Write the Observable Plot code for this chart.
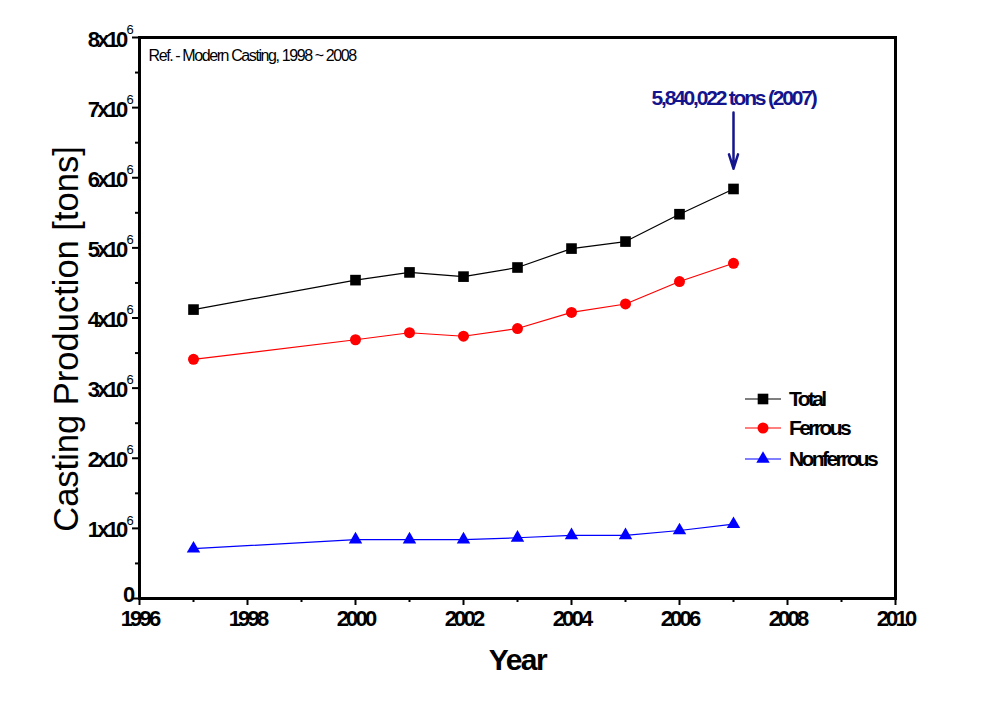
<!DOCTYPE html>
<html><head><meta charset="utf-8">
<script src="https://cdn.jsdelivr.net/npm/d3@7"></script>
<script src="https://cdn.jsdelivr.net/npm/@observablehq/plot@0.6"></script>
<style>
body{margin:0;background:#fff}
svg text{font-family:"Liberation Sans",Arial,sans-serif}
</style>
</head><body><div id="chart"></div>
<script>
const years=[1997,2000,2001,2002,2003,2004,2005,2006,2007];
const total=[4.12e6,4.54e6,4.65e6,4.59e6,4.72e6,4.99e6,5.09e6,5.48e6,5.84e6];
const ferrous=[3.41e6,3.69e6,3.79e6,3.74e6,3.85e6,4.08e6,4.20e6,4.52e6,4.78e6];
const nonferrous=[0.71e6,0.84e6,0.84e6,0.84e6,0.866e6,0.90e6,0.90e6,0.97e6,1.06e6];
const seriesNames=["Total","Ferrous","Nonferrous"];
const seriesColors=["#000000","#ff0000","#0000ff"];
const seriesSymbols=["square","circle","triangle"];
const xTicks=[1996,1998,2000,2002,2004,2006,2008,2010];
const xMinor=[1997,1999,2001,2003,2005,2007,2009];
const yTicks=[0,1e6,2e6,3e6,4e6,5e6,6e6,7e6,8e6];
const yMinor=[0.5e6,1.5e6,2.5e6,3.5e6,4.5e6,5.5e6,6.5e6,7.5e6];
const yTickLabels=["0","1x10","2x10","3x10","4x10","5x10","6x10","7x10","8x10"];
const yTickExp=["","6","6","6","6","6","6","6","6"];
const annot=[{year:2007,value:5840022,label:"5,840,022 tons (2007)",textAt:7.13e6,arrowFrom:6.93e6,arrowTo:6.13e6}];
const refText="Ref. - Modern Casting, 1998 ~ 2008";

const series=[total,ferrous,nonferrous];
const data=seriesNames.flatMap((s,k)=>years.map((y,i)=>({year:y,value:series[k][i],series:s})));
const yLab=yTicks.map((v,i)=>({value:v,label:yTickLabels[i],exp:yTickExp[i]}));

const plot=Plot.plot({
  width:983,height:721,
  marginLeft:139,marginRight:88,marginTop:37,marginBottom:123,
  x:{domain:[1996,2010]},
  y:{domain:[0,8e6]},
  color:{domain:seriesNames,range:seriesColors},
  style:{background:"white",overflow:"visible",fontFamily:"Liberation Sans, Arial, sans-serif",color:"black"},
  marks:[
    Plot.axisX({ticks:xMinor,tickSize:4,tickFormat:()=>"",label:null,strokeWidth:2}),
    Plot.axisX({ticks:xTicks,tickSize:7,tickPadding:5,tickFormat:d=>String(d),fontSize:22,fontWeight:"bold",label:null,strokeWidth:2}),
    Plot.axisY({ticks:yMinor,tickSize:4,tickFormat:()=>"",label:null,strokeWidth:2}),
    Plot.axisY({ticks:yTicks,tickSize:7,tickFormat:()=>"",label:null,strokeWidth:2}),
    Plot.text(yLab.filter(d=>d.value>0),{y:"value",text:"label",frameAnchor:"left",dx:-14,dy:2,textAnchor:"end",fontSize:22,fontWeight:"bold"}),
    Plot.text(yLab.filter(d=>d.value===0),{y:"value",text:"label",frameAnchor:"left",dx:-7,dy:-4,textAnchor:"end",fontSize:22,fontWeight:"bold"}),
    Plot.text(yLab,{y:"value",text:"exp",frameAnchor:"left",dx:-13,dy:-8,textAnchor:"start",fontSize:13}),
    Plot.line(data,{x:"year",y:"value",z:"series",stroke:"series",strokeWidth:1.2}),
    Plot.dot(data.filter(d=>d.series==="Total"),{x:"year",y:"value",symbol:()=>"square",fill:"series",stroke:null,r:6}),
    Plot.dot(data.filter(d=>d.series==="Ferrous"),{x:"year",y:"value",symbol:()=>"circle",fill:"series",stroke:null,r:5.5}),
    Plot.dot(data.filter(d=>d.series==="Nonferrous"),{x:"year",y:"value",symbol:()=>"triangle",fill:"series",stroke:null,r:5}),
    Plot.arrow(annot,{x1:"year",x2:"year",y1:"arrowFrom",y2:"arrowTo",stroke:"#14148c",strokeWidth:2.5,headLength:9,headAngle:35}),
    Plot.text(annot,{x:"year",y:"textAt",text:"label",fill:"#14148c",fontSize:21,fontWeight:"bold"}),
    Plot.text([refText],{frameAnchor:"top-left",dx:9,dy:18,lineAnchor:"middle",textAnchor:"start",fontSize:16}),
    Plot.text(["Year"],{frameAnchor:"bottom",dy:62,lineAnchor:"middle",textAnchor:"middle",fontSize:30,fontWeight:"bold"}),
    Plot.text(["Casting Production [tons]"],{frameAnchor:"left",dx:-73,dy:21,lineAnchor:"middle",textAnchor:"middle",rotate:-90,fontSize:34.5}),
    Plot.frame({strokeWidth:3})
  ]
});
document.getElementById("chart").appendChild(plot);

const svg=d3.select(plot);
svg.selectAll("text").style("letter-spacing","-2.8px");
svg.selectAll("text").filter(function(){return this.textContent===refText;}).style("letter-spacing","-1.4px");
svg.selectAll("text").filter(function(){return this.textContent==="Year";}).style("letter-spacing","-1.5px");
svg.selectAll("text").filter(function(){return this.textContent==="Casting Production [tons]";}).style("letter-spacing","0px");
svg.selectAll("text").filter(function(){return this.textContent===annot[0].label;}).style("letter-spacing","-2.2px");
// legend
const lg=svg.append("g").attr("class","legend").attr("text-anchor","start");
const rowY=[399,428,459];
const symFns={square:d3.symbolSquare,circle:d3.symbolCircle,triangle:d3.symbolTriangle};
const symSizes=[113,95,78];
seriesNames.forEach((s,i)=>{
  const g=lg.append("g").attr("transform",`translate(0,${rowY[i]})`);
  g.append("line").attr("x1",745).attr("x2",781).attr("y1",0).attr("y2",0).attr("stroke",seriesColors[i]).attr("stroke-width",1.2);
  g.append("path").attr("transform","translate(763,0)").attr("d",d3.symbol(symFns[seriesSymbols[i]],symSizes[i])()).attr("fill",seriesColors[i]);
  g.append("text").attr("x",789).attr("y",0).attr("dy","0.35em").attr("text-anchor","start").attr("font-size",21).attr("font-weight","bold").style("letter-spacing","-2.6px").text(s);
});
</script>
</body></html>
